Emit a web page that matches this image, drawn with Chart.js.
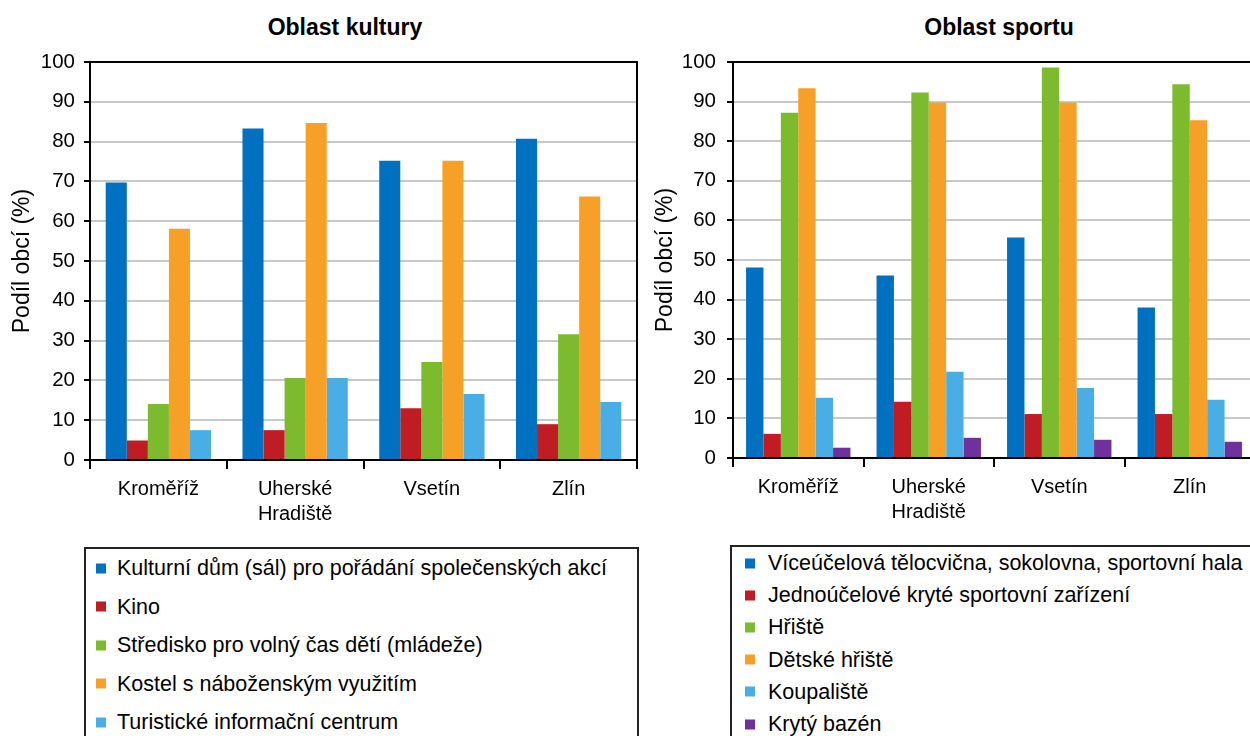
<!DOCTYPE html>
<html lang="cs">
<head>
<meta charset="utf-8">
<title>Oblast kultury a sportu</title>
<script src="https://cdn.jsdelivr.net/npm/chart.js@4/dist/chart.umd.min.js"></script>
<style>
  body { margin: 0; width: 1250px; height: 736px; overflow: hidden; background: #fff;
         font-family: "Liberation Sans", Arial, sans-serif; color: #000; }
  .box { position: absolute; }
  .nadpis { position: absolute; font-weight: bold; font-size: 23px; white-space: nowrap;
            transform: translate(-50%, -50%); }
  .legenda { position: absolute; border: 2px solid #222; background: #fff; height: 220px; }
  .legenda div { position: absolute; font-size: 21.5px; white-space: nowrap; transform: translateY(-50%); }
  .legenda span { position: absolute; width: 10px; height: 10px; top: 50%; margin-top: -5px; }
</style>
</head>
<body>
<div class="nadpis" style="left:345px; top:27px">Oblast kultury</div>
<div class="nadpis" style="left:999px; top:27px">Oblast sportu</div>
<div class="box" style="left:0; top:0"><canvas id="kultura" width="640" height="540"></canvas></div>
<div class="box" style="left:645px; top:0"><canvas id="sport" width="620" height="540"></canvas></div>
<div class="legenda" id="legKultura" style="left:84px; top:547px; width:551px"></div>
<div class="legenda" id="legSport" style="left:730px; top:545px; width:600px"></div>

<script>
// kategorie (okresy)
const okresy = ["Kroměříž", ["Uherské", "Hradiště"], "Vsetín", "Zlín"];

// oblast kultury - podíl obcí (%)
const kulturaNazvy = [
  "Kulturní dům (sál) pro pořádání společenských akcí",
  "Kino",
  "Středisko pro volný čas dětí (mládeže)",
  "Kostel s náboženským využitím",
  "Turistické informační centrum"
];
const kulturniDum = [69.7, 83.3, 75.2, 80.7];
const kino = [4.9, 7.5, 13.0, 9.0];
const stredisko = [14.1, 20.6, 24.6, 31.6];
const kostel = [58.1, 84.7, 75.2, 66.2];
const infoCentrum = [7.5, 20.6, 16.6, 14.6];

// oblast sportu - podíl obcí (%)
const sportNazvy = [
  "Víceúčelová tělocvična, sokolovna, sportovní hala",
  "Jednoúčelové kryté sportovní zařízení",
  "Hřiště",
  "Dětské hřiště",
  "Koupaliště",
  "Krytý bazén"
];
const telocvicna = [48.1, 46.1, 55.7, 38.0];
const kryteZarizeni = [6.1, 14.2, 11.1, 11.1];
const hriste = [87.2, 92.3, 98.6, 94.4];
const detskeHriste = [93.4, 89.8, 89.8, 85.3];
const koupaliste = [15.2, 21.8, 17.7, 14.7];
const krytyBazen = [2.6, 5.1, 4.6, 4.1];

// barvy
const barvy = ["#0070c0", "#c01c24", "#7cba2e", "#f7a028", "#4aaee6", "#7030a0"];

const FONT = "'Liberation Sans', Arial, sans-serif";

// ramecek kolem plochy grafu (horni a prava hrana)
const ramecek = {
  id: "ramecek",
  afterDraw(chart) {
    const a = chart.chartArea, ctx = chart.ctx;
    ctx.save();
    ctx.strokeStyle = "#000";
    ctx.lineWidth = 2;
    ctx.beginPath();
    ctx.moveTo(a.left, a.top);
    ctx.lineTo(a.right, a.top);
    ctx.lineTo(a.right, a.bottom);
    ctx.stroke();
    ctx.restore();
  }
};

function createChart(canvas, nazvy, rady, opt) {
  return new Chart(canvas, {
    type: "bar",
    data: {
      labels: okresy,
      datasets: rady.map((r, i) => ({
        label: nazvy[i],
        data: r,
        backgroundColor: barvy[i],
        borderWidth: 0,
        categoryPercentage: opt.catPct,
        barPercentage: 1
      }))
    },
    plugins: [ramecek],
    options: {
      responsive: false,
      animation: false,
      events: [],
      layout: { padding: { top: 62, right: opt.padRight, left: 0, bottom: 0 } },
      plugins: { legend: { display: false }, title: { display: false }, tooltip: { enabled: false } },
      scales: {
        x: {
          afterFit: s => { s.height = opt.xHeight; },
          grid: { offset: true, drawOnChartArea: false, tickLength: 9, color: "#000", lineWidth: 2 },
          border: { display: true, color: "#000", width: 2 },
          ticks: { color: "#000", padding: 8, font: { family: FONT, size: 20, lineHeight: 1.25 }, maxRotation: 0, autoSkip: false }
        },
        y: {
          min: 0, max: 100,
          afterFit: s => { s.width = opt.yWidth; },
          grid: { color: "#c8c8c8", lineWidth: 2, tickLength: 6, tickColor: "#000" },
          border: { display: true, color: "#000", width: 2 },
          ticks: { stepSize: 10, color: "#000", padding: opt.tickPad, font: { family: FONT, size: 20.5 } },
          title: { display: true, text: "Podíl obcí (%)", color: "#000", padding: { top: opt.titlePad, bottom: 0 },
                   font: { family: FONT, size: 23 } }
        }
      }
    }
  });
}

function legenda(el, nazvy, opt) {
  nazvy.forEach((n, i) => {
    const d = document.createElement("div");
    d.style.left = opt.textLeft + "px";
    d.style.top = (opt.first + i * opt.step) + "px";
    d.textContent = n;
    const s = document.createElement("span");
    s.style.background = barvy[i];
    s.style.left = (opt.markLeft - opt.textLeft) + "px";
    d.appendChild(s);
    el.appendChild(d);
  });
}

createChart(document.getElementById("kultura"), kulturaNazvy,
  [kulturniDum, kino, stredisko, kostel, infoCentrum],
  { catPct: 0.77, padRight: 3, xHeight: 80, yWidth: 90, tickPad: 9, titlePad: 9 });

createChart(document.getElementById("sport"), sportNazvy,
  [telocvicna, kryteZarizeni, hriste, detskeHriste, koupaliste, krytyBazen],
  { catPct: 0.80, padRight: 10, xHeight: 82, yWidth: 88, tickPad: 11, titlePad: 7 });

legenda(document.getElementById("legKultura"), kulturaNazvy, { textLeft: 31, markLeft: 10, first: 19, step: 38.5 });
legenda(document.getElementById("legSport"), sportNazvy, { textLeft: 36, markLeft: 13, first: 16, step: 32.2 });
</script>
</body>
</html>
